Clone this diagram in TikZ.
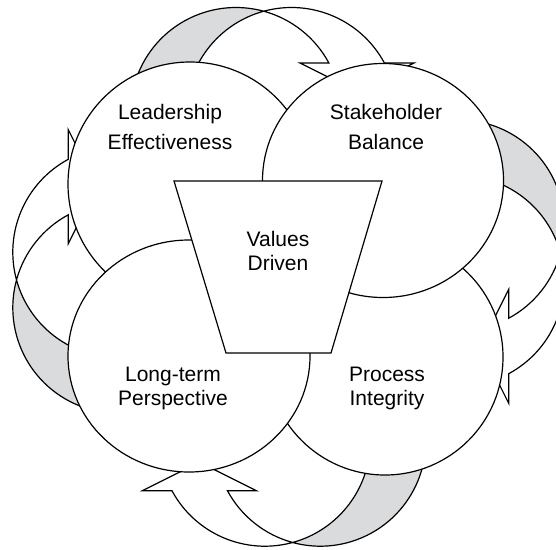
\documentclass[tikz,border=0pt]{standalone}
\usepackage{fontspec}
\setmainfont{Liberation Sans}
\usetikzlibrary{shapes.geometric}
\definecolor{backgray}{RGB}{218,219,221}

\begin{document}
\begin{tikzpicture}[x=1pt, y=1pt, line width=1.2pt,
		bubble/.style={draw, fill=white, ellipse, inner sep=0pt},
		backside/.style={draw, fill=backgray},
		frontside/.style={draw, fill=white},
		words/.style={align=center, inner sep=0pt, font=\fontsize{21}{24}\selectfont}]
		\useasboundingbox (0,0) rectangle (556,-549);
		\clip (0,0) rectangle (556,-549);
		\foreach \hx/\hy/\ang in {357/-63/0, 508.7/-346.3/-90, 199.35/-490.7/180, 68.3/-186.7/90} {
			\begin{scope}[shift={(\hx,\hy)}, rotate=\ang]
				\draw[backside] (-121,-50) ++(200:105.5) arc[start angle=200, end angle=74.75, radius=105.5]
					arc[start angle=105.25, end angle=200, radius=105.5] -- cycle;
				\draw[frontside] (-65.5,-50) ++(105.25:105.5) arc[start angle=105.25, end angle=28.29, radius=105.5]
					-- (57,0) -- (0,-28.5) -- (-57,0) -- (-28.09,0)
					arc[start angle=28.29, end angle=74.75, radius=105.5] -- cycle;
			\end{scope}
		}
		\node[bubble, minimum width=244, minimum height=244] (leadership) at (190,-184) {};
		\node[bubble, minimum width=236, minimum height=236] (process) at (385,-357) {};
		\node[bubble, minimum width=241, minimum height=234] (stakeholder) at (383,-180.5) {};
		\node[bubble, minimum width=242, minimum height=232] (longterm) at (189,-356) {};
		\draw[fill=white] (174,-181) -- (382,-181) -- (331,-353) -- (226,-353) -- cycle;
		\node[words] (leadershiptext) at (170,-127) {Leadership\\[6pt]Effectiveness};
		\node[words] (stakeholdertext) at (386,-127) {Stakeholder\\[6pt]Balance};
		\node[words] (valuestext) at (278,-251) {Values\\Driven};
		\node[words] (longtermtext) at (173,-388.5) {Long-term\\Perspective};
		\node[words] (processtext) at (387,-388.5) {Process\\Integrity};
\end{tikzpicture}
\end{document}
